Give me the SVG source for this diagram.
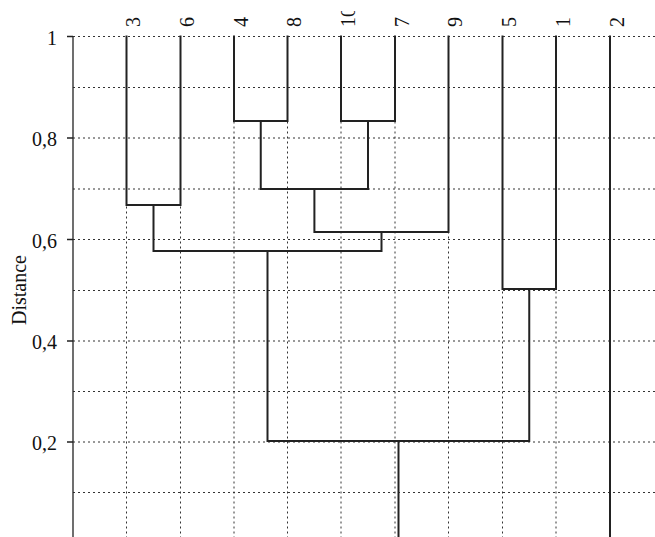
<svg xmlns="http://www.w3.org/2000/svg" width="655" height="537" viewBox="0 0 655 537">
<style>
.grid{stroke:#333;stroke-width:1;stroke-dasharray:2 3;fill:none}
.axis{stroke:#222;stroke-width:1.3;fill:none}
.link{stroke:#222;stroke-width:2;fill:none;stroke-linecap:square}
.tick{font-family:"Liberation Serif",serif;font-size:20px;fill:#111}
.leaf{font-family:"Liberation Serif",serif;font-size:20px;fill:#111}
</style>
<defs>
<clipPath id="labclip"><rect x="0" y="11" width="655" height="30"/></clipPath>
</defs>
<rect width="655" height="537" fill="#fff"/>
<g id="grid">
<path class="grid" d="M73 36.5H655M73 87.5H655M73 138H655M73 189H655M73 239.5H655M73 290.5H655M73 341H655M73 391.5H655M73 442H655M73 492.5H655"/>
<path class="grid" d="M126.5 36.5V537M180.5 36.5V537M234 36.5V537M287.5 36.5V537M341 36.5V537M395 36.5V537M448.5 36.5V537M502.5 36.5V537M556 36.5V537M610 36.5V537"/>
</g>
<g id="axis">
<path class="axis" d="M73 36.5V537M67 36.5H73M67 138H73M67 239.5H73M67 341H73M67 442H73"/>
<text class="tick" x="57" y="44.5" text-anchor="end">1</text>
<text class="tick" x="57" y="146" text-anchor="end">0,8</text>
<text class="tick" x="57" y="247.5" text-anchor="end">0,6</text>
<text class="tick" x="57" y="349" text-anchor="end">0,4</text>
<text class="tick" x="57" y="450" text-anchor="end">0,2</text>
<text class="tick" transform="translate(26 290) rotate(-90)" text-anchor="middle">Distance</text>
</g>
<g id="connectors">
<path class="link" d="M126.5 36.5V205H180.5V36.5"/>
<path class="link" d="M234 36.5V121H287.5V36.5"/>
<path class="link" d="M341 36.5V121H395V36.5"/>
<path class="link" d="M260.75 121V189H368V121"/>
<path class="link" d="M314.4 189V232H448.5V36.5"/>
<path class="link" d="M153.5 205V251H381.5V232"/>
<path class="link" d="M502.5 36.5V289H556V36.5"/>
<path class="link" d="M267.5 251V441H529.25V289"/>
<path class="link" d="M398.5 441V537"/>
<path class="link" d="M610 36.5V537"/>
</g>
<g id="labels" clip-path="url(#labclip)">
<g id="leaf3"><text class="leaf" transform="translate(140 27) rotate(-90)">3</text></g>
<g id="leaf6"><text class="leaf" transform="translate(194 27) rotate(-90)">6</text></g>
<g id="leaf4"><text class="leaf" transform="translate(247.5 27) rotate(-90)">4</text></g>
<g id="leaf8"><text class="leaf" transform="translate(301 27) rotate(-90)">8</text></g>
<g id="leaf10"><text class="leaf" transform="translate(354.5 27) rotate(-90)">10</text></g>
<g id="leaf7"><text class="leaf" transform="translate(408.5 27) rotate(-90)">7</text></g>
<g id="leaf9"><text class="leaf" transform="translate(462 27) rotate(-90)">9</text></g>
<g id="leaf5"><text class="leaf" transform="translate(516 27) rotate(-90)">5</text></g>
<g id="leaf1"><text class="leaf" transform="translate(569.5 27) rotate(-90)">1</text></g>
<g id="leaf2"><text class="leaf" transform="translate(623.5 27) rotate(-90)">2</text></g>
</g>
</svg>
